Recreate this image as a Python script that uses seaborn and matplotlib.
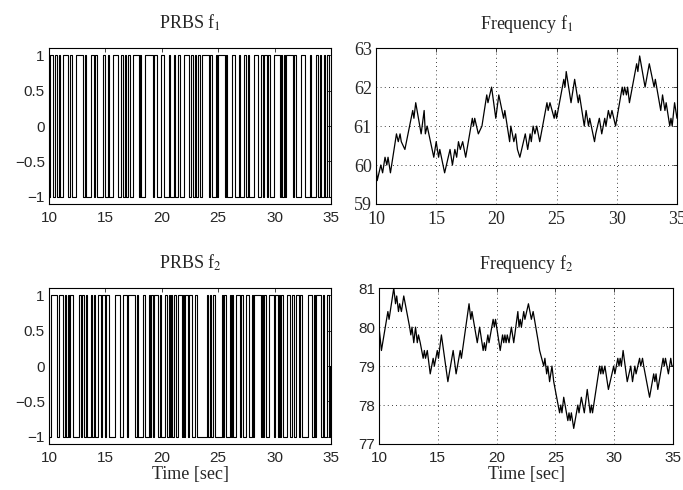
# PRBS excitation and resulting frequencies, MATLAB-style 2x2 layout
import numpy as np
import pandas as pd
import seaborn as sns
import matplotlib.pyplot as plt

# turning points of frequency f1 (time [sec], value)
f1_time = [10.0, 10.1, 10.4, 10.55, 10.75, 10.9, 11.0, 11.2, 11.7, 11.85, 12.0, 12.1, 12.4,
           13.05, 13.15, 13.3, 13.75, 14.0, 14.1, 14.25, 14.8, 15.0, 15.2, 15.3, 15.7,
           16.15, 16.35, 16.55, 16.7, 16.85, 17.0, 17.2, 17.45, 18.0, 18.1, 18.2, 18.35,
           18.5, 18.8, 19.2, 19.3, 19.6, 19.95, 20.2, 20.6, 20.7, 20.9, 21.1, 21.2, 21.45,
           21.6, 21.75, 21.95, 22.4, 22.6, 22.8, 22.9, 23.05, 23.2, 23.35, 23.6, 24.2, 24.3,
           24.45, 24.8, 24.9, 25.0, 25.6, 25.7, 25.8, 26.2, 26.5, 26.8, 26.9, 27.3, 27.45,
           27.65, 27.75, 28.15, 28.25, 28.55, 28.75, 29.0, 29.1, 29.3, 29.45, 29.6, 29.9,
           30.45, 30.55, 30.65, 30.8, 30.9, 31.05, 31.65, 31.75, 31.9, 32.35, 32.7, 33.1,
           33.2, 33.65, 33.8, 34.0, 34.1, 34.4, 34.5, 34.6, 34.8, 35.0]
f1_value = [60.0, 59.6, 60.0, 59.8, 60.2, 60.0, 60.2, 59.8, 60.8, 60.6, 60.8, 60.6, 60.4,
            61.4, 61.2, 61.6, 60.8, 61.4, 60.8, 61.0, 60.2, 60.6, 60.2, 60.4, 59.8,
            60.4, 60.0, 60.4, 60.2, 60.6, 60.4, 60.6, 60.2, 61.2, 61.0, 61.2, 61.0,
            60.8, 61.0, 61.8, 61.6, 62.0, 61.2, 61.8, 61.2, 61.4, 61.0, 60.6, 61.0, 60.6,
            60.8, 60.4, 60.2, 60.8, 60.4, 60.8, 60.6, 61.0, 60.8, 61.0, 60.6, 61.6, 61.4,
            61.6, 61.2, 61.4, 61.2, 62.2, 62.0, 62.4, 61.6, 62.2, 61.6, 61.8, 61.0, 61.4,
            61.0, 61.2, 60.6, 60.8, 61.2, 60.8, 61.2, 61.0, 61.4, 61.2, 61.4, 61.0,
            62.0, 61.8, 62.0, 61.8, 62.0, 61.6, 62.6, 62.4, 62.8, 62.0, 62.6, 62.0,
            62.2, 61.4, 61.8, 61.4, 61.6, 61.0, 61.2, 61.0, 61.6, 61.2]

# turning points of frequency f2 (time [sec], value)
f2_time = [10.0, 10.2, 10.75, 10.85, 10.95, 11.25, 11.4, 11.5, 11.65, 11.75, 11.9, 12.1,
           12.6, 12.7, 12.8, 12.95, 13.1, 13.25, 13.35, 13.5, 13.75, 13.85, 13.95, 14.1,
           14.35, 14.6, 14.7, 14.95, 15.05, 15.3, 15.85, 16.3, 16.55, 16.9, 17.0, 17.65,
           17.8, 17.9, 18.35, 18.55, 18.85, 18.95, 19.05, 19.25, 19.35, 19.7, 19.8, 19.9,
           20.3, 20.5, 20.6, 20.7, 20.8, 20.9, 21.05, 21.25, 21.45, 21.8, 21.9, 22.0, 22.1,
           22.3, 22.4, 22.7, 22.95, 23.1, 23.55, 23.65, 24.0, 24.1, 24.25, 24.35, 24.5,
           24.7, 24.85, 25.35, 25.45, 25.55, 25.7, 26.05, 26.15, 26.25, 26.35, 26.55, 26.9,
           27.0, 27.2, 27.45, 27.7, 27.95, 28.05, 28.15, 28.75, 28.85, 28.95, 29.05, 29.2,
           29.5, 29.95, 30.05, 30.3, 30.4, 30.5, 30.6, 30.75, 31.1, 31.4, 31.55, 31.75,
           31.85, 32.15, 32.25, 32.4, 32.5, 33.0, 33.35, 33.45, 33.55, 33.7, 34.15, 34.25,
           34.35, 34.6, 34.8, 34.9, 35.0]
f2_value = [80.0, 79.4, 80.4, 80.2, 80.4, 81.0, 80.6, 80.8, 80.4, 80.6, 80.4, 80.8,
            80.0, 79.8, 80.0, 79.6, 80.0, 79.6, 79.8, 79.6, 79.2, 79.4, 79.2, 79.4,
            78.8, 79.2, 79.0, 79.4, 79.2, 79.8, 78.6, 79.4, 78.8, 79.4, 79.2, 80.6,
            80.2, 80.4, 79.6, 80.0, 79.4, 79.6, 79.4, 79.8, 79.6, 80.2, 80.0, 80.2,
            79.4, 79.8, 79.6, 79.8, 79.6, 79.8, 79.6, 80.0, 79.6, 80.4, 80.0, 80.2, 80.0,
            80.4, 80.2, 80.6, 80.2, 80.4, 79.6, 79.4, 79.0, 79.2, 78.8, 79.0, 78.6,
            79.0, 78.6, 77.8, 78.0, 77.8, 78.2, 77.6, 77.8, 77.6, 77.8, 77.4, 78.0,
            77.8, 78.2, 77.8, 78.4, 77.8, 78.0, 77.8, 79.0, 78.8, 79.0, 78.8, 79.0,
            78.4, 79.0, 78.8, 79.2, 79.0, 79.2, 79.0, 79.4, 78.6, 79.0, 78.6, 79.0,
            78.8, 79.2, 79.0, 79.2, 79.0, 78.2, 78.8, 78.6, 78.8, 78.4, 79.2, 79.0,
            79.2, 78.8, 79.2, 79.0, 79.0]

freq_titles = ["Frequency f$_1$", "Frequency f$_2$"]
prbs_titles = ["PRBS f$_1$", "PRBS f$_2$"]


def prbs_from_freq(t, f):
    # the PRBS is the sign of the frequency slope (freq is its integral)
    t = np.asarray(t)
    s = np.sign(np.diff(np.asarray(f)))
    return pd.DataFrame({"t": np.append(t[:-1], t[-1]), "u": np.append(s, s[-1])})


sns.set_style("white")
plt.rcParams["mathtext.fontset"] = "stix"
plt.rcParams["xtick.direction"] = "in"
plt.rcParams["ytick.direction"] = "in"

fig = plt.figure(figsize=(6.83, 4.9), dpi=100)
pos = {
    (0, 0): [0.0717, 0.5837, 0.413, 0.318],
    (0, 1): [0.5505, 0.5837, 0.4407, 0.318],
    (1, 0): [0.0717, 0.0939, 0.413, 0.318],
    (1, 1): [0.555, 0.0939, 0.4305, 0.318],
}
serif = "Liberation Serif"
sans = "Liberation Sans"

for i, (ft, fv) in enumerate([(f1_time, f1_value), (f2_time, f2_value)]):
    # PRBS panel
    ax = fig.add_axes(pos[(i, 0)])
    d = prbs_from_freq(ft, fv)
    sns.lineplot(data=d, x="t", y="u", ax=ax, color="black", linewidth=0.8,
                 drawstyle="steps-post", estimator=None, sort=False)
    ax.set_xlim(10, 35)
    ax.set_ylim(-1.1, 1.1)
    ax.set_yticks([-1, -0.5, 0, 0.5, 1])
    ax.set_yticklabels(["\u22121", "\u22120.5", "0", "0.5", "1"])
    ax.set_xticks([10, 15, 20, 25, 30, 35])
    ax.set_title(prbs_titles[i], family=serif, fontsize=13, pad=14)
    ax.set_ylabel("")
    ax.set_xlabel("Time [sec]" if i == 1 else "", family=serif, fontsize=13, labelpad=1)

    # frequency panel
    ax2 = fig.add_axes(pos[(i, 1)])
    df = pd.DataFrame({"t": ft, "f": fv})
    sns.lineplot(data=df, x="t", y="f", ax=ax2, color="black", linewidth=0.9,
                 estimator=None, sort=False)
    ax2.set_xlim(10, 35)
    ax2.set_xticks([10, 15, 20, 25, 30, 35])
    if i == 0:
        ax2.set_ylim(59, 63)
        ax2.set_yticks([59, 60, 61, 62, 63])
    else:
        ax2.set_ylim(77, 81)
        ax2.set_yticks([77, 78, 79, 80, 81])
    ax2.grid(True, color="black", linestyle=(0, (1, 4)), linewidth=0.6)
    ax2.set_title(freq_titles[i], family=serif, fontsize=13, pad=14)
    ax2.set_ylabel("")
    ax2.set_xlabel("Time [sec]" if i == 1 else "", family=serif, fontsize=13, labelpad=1)

    for a, fam, size in [(ax, sans, 11), (ax2, serif if i == 0 else sans, 13 if i == 0 else 11)]:
        a.tick_params(which="both", top=True, right=True, length=3, width=0.6,
                      labelsize=size, labelfontfamily=fam)
        a.tick_params(axis="x", pad=5)
        a.tick_params(axis="y", pad=3)
        for sp in a.spines.values():
            sp.set_linewidth(0.8)
            sp.set_color("black")

fig.savefig("out.png", dpi=100)
